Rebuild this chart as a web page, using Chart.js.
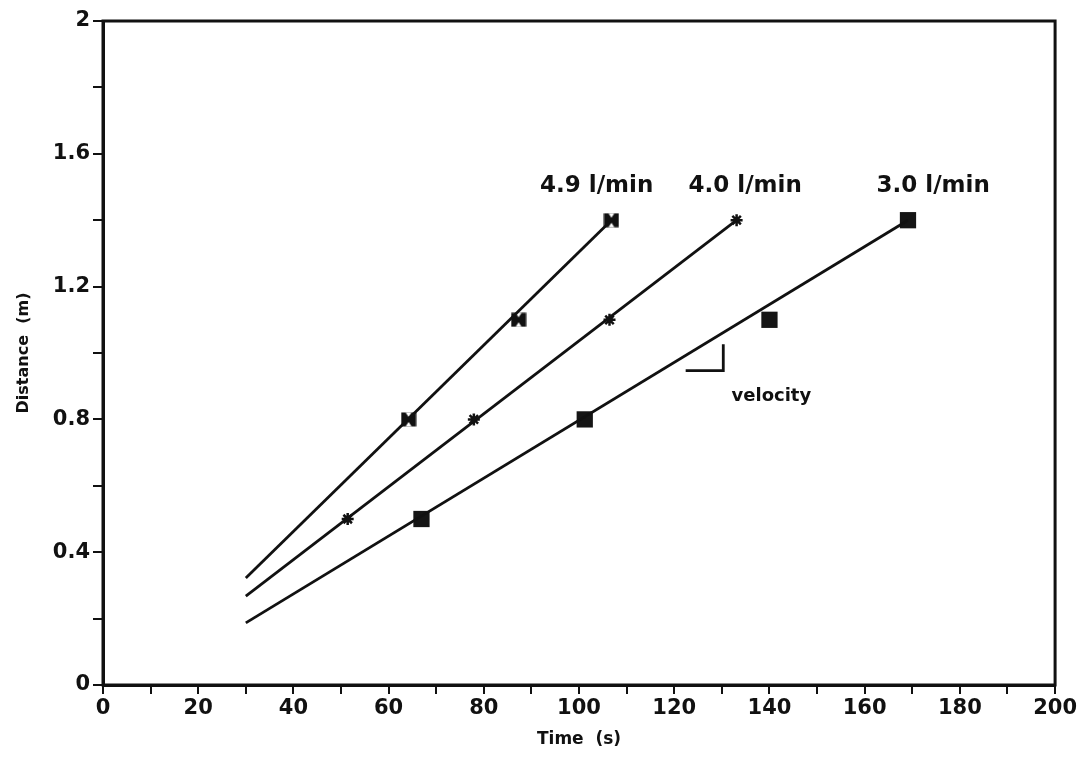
<!DOCTYPE html>
<html>
<head>
<meta charset="utf-8">
<script src="https://cdn.jsdelivr.net/npm/chart.js@4.4.1/dist/chart.umd.min.js"></script>
<style>
html,body{margin:0;padding:0;background:#fff;}
#wrap{width:1079px;height:760px;position:relative;}
</style>
</head>
<body>
<div id="wrap"><canvas id="c" width="1079" height="760"></canvas></div>
<script>
// ---- data ----
const xTickValues = [0, 20, 40, 60, 80, 100, 120, 140, 160, 180, 200];
const yTickValues = [0, 0.4, 0.8, 1.2, 1.6, 2];

const flow49Time = [64.2, 87.3, 106.8];
const flow49Dist = [0.8, 1.1, 1.4];
const flow40Time = [51.4, 77.9, 106.4, 133.1];
const flow40Dist = [0.5, 0.8, 1.1, 1.4];
const flow30Time = [66.9, 101.2, 140.0, 169.1];
const flow30Dist = [0.5, 0.8, 1.1, 1.4];

// fitted lines (start, end)
const fit49Time = [30, 106.8];
const fit49Dist = [0.322, 1.4];
const fit40Time = [30, 133.1];
const fit40Dist = [0.268, 1.4];
const fit30Time = [30, 169.1];
const fit30Dist = [0.187, 1.4];

// velocity slope triangle
const velTime = [122.4, 130.3, 130.3];
const velDist = [0.947, 0.947, 1.026];

// annotation labels
const labelTexts = ['4.9 l/min', '4.0 l/min', '3.0 l/min', 'velocity'];
const labelTime = [103.7, 134.9, 174.4, 140.4];
const labelDist = [1.503, 1.503, 1.503, 0.87];

const pts = (xs, ys) => xs.map((x, i) => ({x: x, y: ys[i]}));

// bowtie-in-box marker for 4.9 l/min
function bowtie() {
  const c = document.createElement('canvas');
  c.width = 16; c.height = 15;
  const g = c.getContext('2d');
  g.fillStyle = '#111';
  g.fillRect(0.5, 0.5, 15, 14);
  g.fillStyle = '#fff';
  g.beginPath();
  g.moveTo(5, 0.5); g.lineTo(11, 0.5); g.lineTo(8, 5); g.closePath();
  g.moveTo(5, 14.5); g.lineTo(11, 14.5); g.lineTo(8, 10); g.closePath();
  g.fill();
  return c;
}

const FONT = "'DejaVu Sans', sans-serif";

const frame = {
  id: 'frame',
  afterDatasetsDraw(chart) {
    const {ctx, chartArea: a, scales} = chart;
    ctx.save();
    ctx.strokeStyle = '#111';
    ctx.lineWidth = 3;
    ctx.strokeRect(a.left, a.top, a.right - a.left, a.bottom - a.top);
    ctx.fillStyle = '#111';
    ctx.textAlign = 'center';
    ctx.textBaseline = 'middle';
    labelTexts.forEach((t, i) => {
      ctx.font = (i < 3 ? 'bold 23px ' : 'bold 18px ') + FONT;
      ctx.fillText(t, scales.x.getPixelForValue(labelTime[i]), scales.y.getPixelForValue(labelDist[i]));
    });
    ctx.restore();
  }
};

const lineStyle = {showLine: true, borderColor: '#111', borderWidth: 2.8, pointRadius: 0, fill: false, tension: 0};

new Chart(document.getElementById('c'), {
  type: 'scatter',
  data: {
    datasets: [
      Object.assign({label: 'fit 4.9', data: pts(fit49Time, fit49Dist)}, lineStyle),
      Object.assign({label: 'fit 4.0', data: pts(fit40Time, fit40Dist)}, lineStyle),
      Object.assign({label: 'fit 3.0', data: pts(fit30Time, fit30Dist)}, lineStyle),
      Object.assign({label: 'velocity', data: pts(velTime, velDist)}, lineStyle),
      {label: '4.9 l/min', data: pts(flow49Time, flow49Dist), pointStyle: bowtie(), pointRadius: 8,
       backgroundColor: '#111', borderColor: '#111'},
      {label: '4.0 l/min', data: pts(flow40Time, flow40Dist), pointStyle: 'star', pointRadius: 6,
       borderWidth: 2.5, backgroundColor: '#111', borderColor: '#111'},
      {label: '3.0 l/min', data: pts(flow30Time, flow30Dist), pointStyle: 'rect', pointRadius: 11.5,
       borderWidth: 0, backgroundColor: '#151515', borderColor: '#151515'}
    ]
  },
  options: {
    responsive: false,
    animation: false,
    events: [],
    layout: {padding: {left: 10, right: 21, top: 21, bottom: 6}},
    plugins: {legend: {display: false}, tooltip: {enabled: false}},
    scales: {
      x: {
        type: 'linear', min: 0, max: 200,
        afterFit(s) { s.height = 69; },
        afterBuildTicks(s) { s.ticks = []; for (let v = 0; v <= 200; v += 10) s.ticks.push({value: v}); },
        ticks: {
          color: '#111', padding: 2, maxRotation: 0, autoSkip: false,
          font: {family: FONT, size: 21, weight: 'bold'},
          callback: v => xTickValues.includes(v) ? String(v) : ''
        },
        grid: {drawOnChartArea: false, drawTicks: true, tickLength: 9, color: '#111', lineWidth: 2},
        border: {display: true, color: '#111', width: 3},
        title: {display: true, text: 'Time  (s)', color: '#111',
                font: {family: FONT, size: 17, weight: 'bold'}, padding: {top: 2, bottom: 4}}
      },
      y: {
        type: 'linear', min: 0, max: 2,
        afterFit(s) { s.width = 93; },
        afterBuildTicks(s) { s.ticks = []; for (let k = 0; k <= 10; k++) s.ticks.push({value: +(k * 0.2).toFixed(1)}); },
        ticks: {
          color: '#111', padding: 3, autoSkip: false,
          font: {family: FONT, size: 21, weight: 'bold'},
          callback: v => yTickValues.some(t => Math.abs(t - v) < 1e-6) ? String(+v.toFixed(1)) : ''
        },
        grid: {drawOnChartArea: false, drawTicks: true, tickLength: 10, color: '#111', lineWidth: 2},
        border: {display: true, color: '#111', width: 3},
        title: {display: true, text: 'Distance  (m)', color: '#111',
                font: {family: FONT, size: 16, weight: 'bold'}, padding: {top: 4, bottom: 4}}
      }
    }
  },
  plugins: [frame]
});
</script>
</body>
</html>
